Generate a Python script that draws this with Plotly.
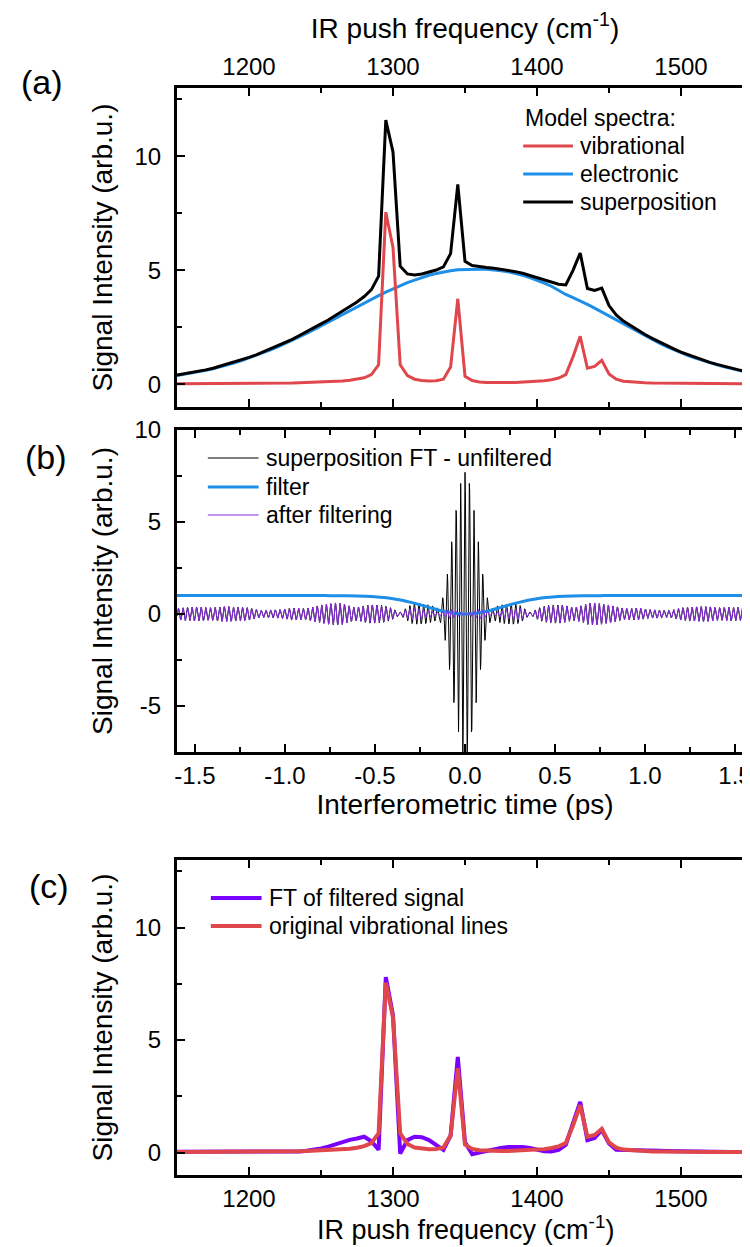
import numpy as np
import plotly.graph_objects as go

# ---------------- data ----------------
freq = list(range(1150, 1551, 5))  # IR push frequency grid, cm^-1

vibrational = [
    0.02, 0.02, 0.02, 0.02, 0.02, 0.02, 0.03, 0.03, 0.03, 0.03,   # 1150-1195
    0.03, 0.03, 0.04, 0.04, 0.04, 0.05, 0.05, 0.06, 0.07, 0.08,   # 1200-1245
    0.09, 0.10, 0.12, 0.14, 0.17, 0.21, 0.28, 0.42, 0.85, 7.55,   # 1250-1295
    6.00, 0.85, 0.38, 0.22, 0.16, 0.14, 0.15, 0.22, 0.75, 3.75,   # 1300-1345
    0.35, 0.16, 0.10, 0.08, 0.07, 0.07, 0.07, 0.08, 0.09, 0.10,   # 1350-1395
    0.12, 0.15, 0.20, 0.27, 0.42, 1.20, 2.10, 0.70, 0.78, 1.05,   # 1400-1445
    0.45, 0.22, 0.13, 0.10, 0.08, 0.06, 0.05, 0.05, 0.04, 0.04,   # 1450-1495
    0.03, 0.03, 0.03, 0.03, 0.02, 0.02, 0.02, 0.02, 0.02, 0.02,   # 1500-1545
    0.02,                                                         # 1550
]

electronic = [
    0.38, 0.43, 0.48, 0.54, 0.61, 0.68, 0.76, 0.85, 0.94, 1.04,   # 1150-1195
    1.15, 1.26, 1.38, 1.51, 1.64, 1.78, 1.92, 2.08, 2.23, 2.39,   # 1200-1245
    2.56, 2.72, 2.89, 3.06, 3.23, 3.40, 3.57, 3.73, 3.89, 4.04,   # 1250-1295
    4.19, 4.33, 4.46, 4.57, 4.68, 4.78, 4.86, 4.93, 4.98, 5.02,   # 1300-1345
    5.04, 5.05, 5.05, 5.04, 5.02, 4.98, 4.93, 4.86, 4.78, 4.68,   # 1350-1395
    4.57, 4.44, 4.30, 4.12, 3.94, 3.80, 3.66, 3.50, 3.34, 3.17,   # 1400-1445
    3.00, 2.82, 2.64, 2.46, 2.29, 2.12, 1.96, 1.80, 1.65, 1.51,   # 1450-1495
    1.38, 1.26, 1.15, 1.04, 0.94, 0.85, 0.76, 0.68, 0.61, 0.54,   # 1500-1545
    0.48,                                                         # 1550
]

ft_filtered = [
    0.03, 0.03, 0.03, 0.03, 0.03, 0.03, 0.03, 0.03, 0.03, 0.03,   # 1150-1195
    0.03, 0.03, 0.03, 0.03, 0.03, 0.03, 0.03, 0.05, 0.08, 0.12,   # 1200-1245
    0.18, 0.26, 0.36, 0.47, 0.56, 0.62, 0.70, 0.50, 0.12, 7.80,   # 1250-1295
    6.10, -0.05, 0.55, 0.70, 0.68, 0.55, 0.35, 0.12, 0.75, 4.25,  # 1300-1345
    0.45, -0.08, 0.00, 0.08, 0.15, 0.20, 0.24, 0.25, 0.25, 0.20,  # 1350-1395
    0.12, 0.06, 0.05, 0.12, 0.35, 1.25, 2.25, 0.55, 0.65, 1.00,   # 1400-1445
    0.40, 0.12, 0.12, 0.12, 0.11, 0.10, 0.09, 0.08, 0.07, 0.06,   # 1450-1495
    0.05, 0.04, 0.04, 0.03, 0.03, 0.03, 0.02, 0.02, 0.02, 0.02,   # 1500-1545
    0.02,                                                         # 1550
]

# filter in the time domain, read every 0.05 ps
filter_time = [round(-1.6 + 0.05 * i, 2) for i in range(65)]
filter_value = [
    1.00, 1.00, 1.00, 1.00, 1.00, 1.00, 1.00, 1.00, 1.00, 1.00,   # -1.60 .. -1.15
    1.00, 1.00, 1.00, 1.00, 1.00, 1.00, 1.00, 0.998, 0.996, 0.991, # -1.10 .. -0.65
    0.982, 0.965, 0.938, 0.895, 0.831, 0.744, 0.632, 0.501, 0.359, 0.221, # -0.60 .. -0.15
    0.105, 0.027, 0.00, 0.027, 0.105, 0.221, 0.359, 0.501, 0.632, 0.744,  # -0.10 .. 0.35
    0.831, 0.895, 0.938, 0.965, 0.982, 0.991, 0.996, 0.998, 1.00, 1.00,   # 0.40 .. 0.85
    1.00, 1.00, 1.00, 1.00, 1.00, 1.00, 1.00, 1.00, 1.00, 1.00,   # 0.90 .. 1.35
    1.00, 1.00, 1.00, 1.00, 1.00,                                 # 1.40 .. 1.60
]

peak_signal = 7.7  # maximum of the unfiltered interferogram (arb.u.)

freq_ticks = [1200, 1300, 1400, 1500]
time_ticks = [-1.5, -1.0, -0.5, 0.0, 0.5, 1.0, 1.5]
time_ticklabels = ["-1.5", "-1.0", "-0.5", "0.0", "0.5", "1.0", "1.5"]
int_ticks_a = [0, 5, 10]
int_ticks_b = [-5, 0, 5, 10]
int_ticklabels_b = ["-5", "0", "5", "10"]

# ---------------- derived series ----------------
nu = np.array(freq, dtype=float)
vib = np.array(vibrational)
ele = np.array(electronic)
superposition = vib + ele

# interferogram = cosine transform of the superposition spectrum
t = np.round(np.arange(-1.6, 1.6 + 1e-9, 0.002), 4)
c_cm_ps = 0.0299792458
sig = (superposition[None, :] * np.cos(2 * np.pi * c_cm_ps * nu[None, :] * t[:, None])).sum(axis=1)
sig = sig * peak_signal / sig.max()
filt_dense = np.interp(t, filter_time, filter_value)
sig_filtered = sig * filt_dense

# ---------------- styling ----------------
RED = "#E0474C"
BLUE = "#1E8FE8"
VIOLET_B = "#8A2BE2"
VIOLET_C = "#7A00FF"
FONT = "Liberation Sans, Arial, sans-serif"

W, H = 750, 1247
ML, MR, MT, MB = 169, 2, 80, 80
PW, PH = W - ML - MR, H - MT - MB


def px_x(x):
    return (x - ML) / PW


def px_y(y):
    return (H - MB - y) / PH


dom_a = [px_y(399), 1.0]
dom_b = [px_y(744), px_y(422)]
dom_c = [0.0, px_y(852)]

fig = go.Figure()

# panel (a)
fig.add_trace(go.Scatter(x=freq, y=electronic, mode="lines", line=dict(color=BLUE, width=3),
                         name="electronic", xaxis="x", yaxis="y", showlegend=False))
fig.add_trace(go.Scatter(x=freq, y=superposition, mode="lines", line=dict(color="black", width=3),
                         name="superposition", xaxis="x", yaxis="y", showlegend=False))
fig.add_trace(go.Scatter(x=freq, y=vibrational, mode="lines", line=dict(color=RED, width=3),
                         name="vibrational", xaxis="x", yaxis="y", showlegend=False))

# panel (b)
fig.add_trace(go.Scatter(x=t, y=sig, mode="lines", line=dict(color="black", width=1),
                         name="superposition FT - unfiltered", xaxis="x2", yaxis="y2", showlegend=False))
fig.add_trace(go.Scatter(x=filter_time, y=filter_value, mode="lines", line=dict(color=BLUE, width=3, shape="spline"),
                         name="filter", xaxis="x2", yaxis="y2", showlegend=False))
fig.add_trace(go.Scatter(x=t, y=sig_filtered, mode="lines", line=dict(color=VIOLET_B, width=1),
                         name="after filtering", xaxis="x2", yaxis="y2", showlegend=False))

# panel (c)
fig.add_trace(go.Scatter(x=freq, y=ft_filtered, mode="lines", line=dict(color=VIOLET_C, width=4),
                         name="FT of filtered signal", xaxis="x3", yaxis="y3", showlegend=False))
fig.add_trace(go.Scatter(x=freq, y=vibrational, mode="lines", line=dict(color=RED, width=4),
                         name="original vibrational lines", xaxis="x3", yaxis="y3", showlegend=False))

axis_common = dict(showline=True, linecolor="black", linewidth=3, mirror="allticks",
                   ticks="inside", ticklen=8, tickwidth=2, tickcolor="black",
                   showgrid=False, zeroline=False,
                   tickfont=dict(family=FONT, size=24, color="black"))
title_font = dict(family=FONT, size=28, color="black")

fig.update_layout(
    width=W, height=H,
    margin=dict(l=ML, r=MR, t=MT, b=MB),
    plot_bgcolor="white", paper_bgcolor="white",
    showlegend=False,
    xaxis=dict(**axis_common, domain=[0, 1], anchor="y", side="top", range=[1150, 1550],
               tickvals=freq_ticks, minor=dict(ticks="inside", ticklen=5, tickwidth=2, dtick=50, tick0=1150, tickcolor="black"),
               title=dict(text="IR push frequency (cm<sup>-1</sup>)", font=title_font, standoff=10)),
    yaxis=dict(**axis_common, domain=dom_a, anchor="x", range=[-1, 13],
               tickvals=int_ticks_a, minor=dict(ticks="inside", ticklen=5, tickwidth=2, dtick=2.5, tick0=0, tickcolor="black"),
               ticklabelstandoff=8,
               title=dict(text="Signal Intensity (arb.u.)", font=title_font, standoff=14)),
    xaxis2=dict(**axis_common, domain=[0, 1], anchor="y2", range=[-1.6, 1.6],
                tickvals=time_ticks, ticktext=time_ticklabels,
                minor=dict(ticks="inside", ticklen=5, tickwidth=2, dtick=0.25, tick0=0, tickcolor="black"),
                title=dict(text="Interferometric time (ps)", font=title_font, standoff=2)),
    yaxis2=dict(**axis_common, domain=dom_b, anchor="x2", range=[-7.5, 10],
                tickvals=int_ticks_b, ticktext=int_ticklabels_b,
                minor=dict(ticks="inside", ticklen=5, tickwidth=2, dtick=2.5, tick0=0, tickcolor="black"),
                ticklabelstandoff=8,
                title=dict(text="Signal Intensity (arb.u.)", font=title_font, standoff=14)),
    xaxis3=dict(**axis_common, domain=[0, 1], anchor="y3", range=[1150, 1550],
                tickvals=freq_ticks, minor=dict(ticks="inside", ticklen=5, tickwidth=2, dtick=50, tick0=1150, tickcolor="black")),
    yaxis3=dict(**axis_common, domain=dom_c, anchor="x3", range=[-1, 13],
                tickvals=int_ticks_a, minor=dict(ticks="inside", ticklen=5, tickwidth=2, dtick=2.5, tick0=0, tickcolor="black"),
                ticklabelstandoff=8,
                title=dict(text="Signal Intensity (arb.u.)", font=title_font, standoff=14)),
)

# x-axis title of panel (c), placed just below its tick labels
fig.add_annotation(text="IR push frequency (cm<sup>-1</sup>)", x=0.5, y=px_y(1220),
                   xref="paper", yref="paper", showarrow=False,
                   xanchor="center", yanchor="middle", font=dict(family=FONT, size=27, color="black"))

# panel labels
for lab, (cx, cy) in {"(a)": (33, 74), "(b)": (37, 449), "(c)": (40, 878)}.items():
    fig.add_annotation(text=lab, x=px_x(cx), y=px_y(cy), xref="paper", yref="paper",
                       showarrow=False, xanchor="center", yanchor="middle",
                       font=dict(family=FONT, size=34, color="black"))

# manual legends
LEG_FONT = dict(family=FONT, size=23, color="black")


def legend_entry(x0, x1, xt, y, color, width, text):
    fig.add_shape(type="line", xref="paper", yref="paper", x0=px_x(x0), x1=px_x(x1),
                  y0=px_y(y), y1=px_y(y), line=dict(color=color, width=width))
    fig.add_annotation(text=text, x=px_x(xt), y=px_y(y), xref="paper", yref="paper",
                       showarrow=False, xanchor="left", yanchor="middle", font=LEG_FONT)


fig.add_annotation(text="Model spectra:", x=px_x(517), y=px_y(110), xref="paper", yref="paper",
                   showarrow=False, xanchor="left", yanchor="middle", font=LEG_FONT)
legend_entry(517, 567, 572, 138, RED, 3, "vibrational")
legend_entry(517, 567, 572, 166, BLUE, 3, "electronic")
legend_entry(517, 567, 572, 194, "black", 3, "superposition")

legend_entry(200, 251, 256, 450, "black", 1, "superposition FT - unfiltered")
legend_entry(200, 251, 256, 479, BLUE, 3, "filter")
legend_entry(200, 251, 256, 507, VIOLET_B, 1, "after filtering")

legend_entry(203, 254, 259, 890, VIOLET_C, 4, "FT of filtered signal")
legend_entry(203, 254, 259, 918, RED, 4, "original vibrational lines")

fig.write_html("out.html")
